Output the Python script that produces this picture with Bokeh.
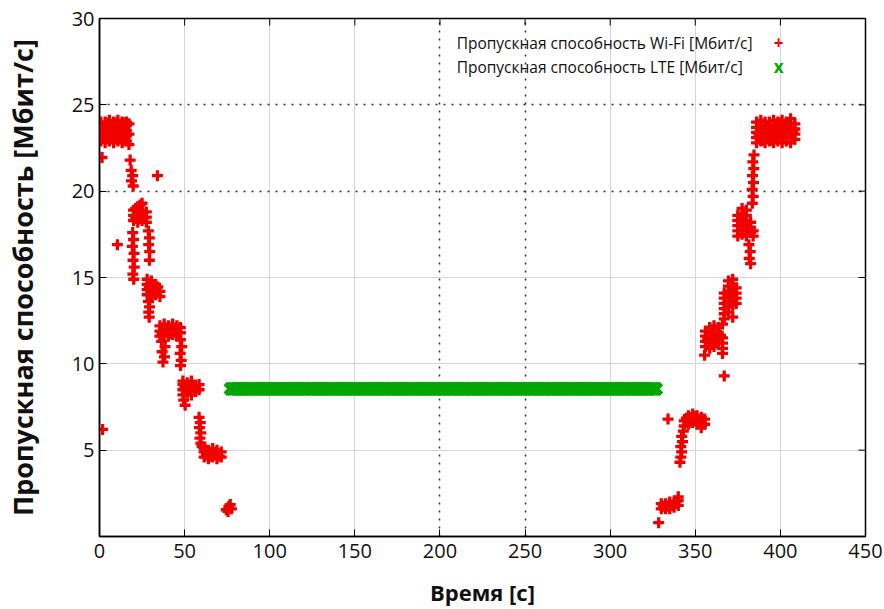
import math
from bokeh.plotting import figure
from bokeh.models import Range1d, FixedTicker, Grid, Label
from bokeh.embed import file_html
from bokeh.resources import INLINE

# ---------------- data ----------------
x_ticks = [0, 50, 100, 150, 200, 250, 300, 350, 400, 450]
y_ticks = [5, 10, 15, 20, 25, 30]
x_grid_light = [50, 100, 150, 300, 350, 400]
x_grid_dotted = [200, 250]
y_grid_light = [5, 10, 15]
y_grid_dotted = [20, 25]

# Wi-Fi throughput while leaving the access point (time s, Mbit/s)
wifi_leave_t = [
    0.8, 0.8, 0.8, 0.8, 0.8,
    3.3, 3.3, 3.3, 3.3, 3.3,
    5.8, 5.8, 5.8, 5.8, 5.8,
    8.3, 8.3, 8.3, 8.3, 8.3,
    10.8, 10.8, 10.8, 10.8, 10.8,
    13.3, 13.3, 13.3, 13.3, 13.3,
    15.8, 15.8, 15.8, 15.8, 15.8,
    2.1, 2.1, 4.6, 4.6, 7.1, 7.1, 9.6, 9.6, 12.1, 12.1, 14.6, 14.6, 17.3, 17.3, 17.3,
    1.5, 18.0, 18.6, 19.5, 18.8, 19.8, 34.0,
    20.0, 20.0, 20.0, 22.5, 22.5, 22.5, 22.5, 25.0, 25.0, 25.0, 25.0, 27.5, 27.5, 27.5,
    21.3, 23.8, 26.3, 23.8, 21.3,
    10.5,
    19.5, 20.0, 19.3, 20.3, 19.7, 20.4, 19.6, 20.1,
    28.7, 29.3, 28.9, 29.5, 29.3,
    28.0, 28.0, 28.0, 28.0, 30.5, 30.5, 30.5, 30.5, 33.0, 33.0, 33.0, 35.5, 35.5,
    29.3, 31.8, 34.2,
    28.8, 29.4, 28.9, 29.2,
    35.5, 35.5, 35.5, 38.0, 38.0, 38.0, 40.5, 40.5, 40.5, 43.0, 43.0, 43.0, 45.5, 45.5, 45.5, 47.5, 47.5,
    36.8, 39.3, 41.8, 44.3,
    36.5, 38.5, 36.8, 38.2, 37.3,
    47.5, 48.3, 47.4, 48.0, 47.6,
    49.0, 49.0, 49.0, 49.0, 51.5, 51.5, 51.5, 54.0, 54.0, 54.0, 54.0, 56.5, 56.5, 58.5, 58.5,
    50.3, 52.8, 55.3,
    49.5, 50.3,
    58.5, 59.2, 58.7, 59.5, 59.0, 59.6, 60.3,
    61.5, 61.5, 61.5, 64.0, 64.0, 64.0, 66.5, 66.5, 66.5, 69.0, 69.0, 69.0, 71.5, 71.5,
    62.8, 65.3, 67.8, 70.3,
    74.5, 76.0, 77.5, 75.5, 76.8,
    1.8,
]
wifi_leave_v = [
    22.9, 23.2, 23.5, 23.8, 24.0,
    22.8, 23.1, 23.4, 23.7, 24.0,
    22.9, 23.2, 23.5, 23.8, 24.1,
    22.8, 23.1, 23.4, 23.7, 24.0,
    22.9, 23.2, 23.5, 23.8, 24.1,
    22.8, 23.1, 23.4, 23.7, 24.0,
    22.9, 23.2, 23.5, 23.8, 24.0,
    23.05, 23.65, 23.35, 23.95, 23.05, 23.65, 23.35, 23.95, 23.05, 23.65, 23.35, 23.95, 22.7, 23.3, 23.9,
    21.95, 21.8, 21.2, 20.9, 20.6, 20.3, 20.9,
    18.3, 18.6, 18.9, 18.2, 18.5, 18.8, 19.1, 18.3, 18.6, 18.9, 19.3, 18.2, 18.5, 18.8,
    18.45, 18.7, 18.45, 19.2, 19.0,
    16.9,
    17.6, 17.2, 16.8, 16.4, 16.0, 15.6, 15.2, 14.9,
    17.7, 17.3, 16.9, 16.5, 16.0,
    14.0, 14.3, 14.6, 14.9, 13.9, 14.2, 14.5, 14.8, 14.0, 14.3, 14.6, 13.9, 14.2,
    14.45, 14.05, 14.45,
    13.6, 13.3, 13.0, 12.7,
    11.6, 11.9, 12.2, 11.7, 12.0, 12.3, 11.6, 11.9, 12.2, 11.7, 12.0, 12.3, 11.6, 11.9, 12.2, 11.8, 12.1,
    11.75, 12.05, 11.75, 12.05,
    11.3, 11.0, 10.7, 10.4, 10.1,
    11.4, 11.0, 10.6, 10.2, 9.9,
    8.2, 8.5, 8.8, 9.0, 8.3, 8.6, 8.9, 8.2, 8.5, 8.8, 9.0, 8.4, 8.7, 8.5, 8.8,
    8.65, 8.45, 8.65,
    7.9, 7.6,
    6.9, 6.6, 6.3, 6.0, 5.7, 5.4, 5.2,
    4.6, 4.9, 5.1, 4.5, 4.8, 5.0, 4.6, 4.9, 5.1, 4.5, 4.8, 5.0, 4.6, 4.9,
    4.75, 4.65, 4.75, 4.65,
    1.55, 1.75, 1.6, 1.45, 1.85,
    6.2,
]

# Wi-Fi throughput while returning to the access point
wifi_return_t = [
    328.5,
    330.0, 330.0, 332.5, 332.5, 335.0, 335.0, 335.0, 337.5, 337.5, 340.0, 340.0, 340.0,
    331.3, 333.8, 336.3, 338.8,
    334.0,
    341.0, 341.5, 342.0, 341.5, 342.5, 342.0, 343.0,
    343.5, 343.5, 346.0, 346.0, 346.0, 348.5, 348.5, 348.5, 351.0, 351.0, 351.0, 353.5, 353.5, 353.5, 355.5, 355.5,
    344.8, 347.3, 349.8, 352.3,
    356.0, 356.0, 356.0, 356.0,
    358.5, 358.5, 358.5, 358.5, 358.5,
    361.0, 361.0, 361.0, 361.0, 361.0,
    363.5, 363.5, 363.5, 363.5,
    366.0, 366.0, 366.0, 366.0, 366.0,
    357.3, 359.8, 362.3, 364.8,
    355.5, 367.0,
    367.0, 367.0, 367.0, 367.0, 367.0, 367.0,
    369.5, 369.5, 369.5, 369.5, 369.5, 369.5, 369.5,
    372.0, 372.0, 372.0, 372.0, 372.0, 372.0, 372.0,
    374.0, 374.0, 374.0, 374.0,
    375.0, 375.0, 375.0, 375.0, 375.0,
    377.5, 377.5, 377.5, 377.5, 377.5, 377.5,
    380.0, 380.0, 380.0, 380.0, 380.0, 380.0,
    382.5, 382.5, 382.5, 384.0, 384.0,
    381.5, 382.3, 381.7, 382.5,
    383.5, 384.0, 383.4, 384.2, 383.6, 384.4, 383.8, 384.5,
    386.0, 386.0, 386.0, 386.0, 386.0,
    388.5, 388.5, 388.5, 388.5, 388.5,
    391.0, 391.0, 391.0, 391.0, 391.0,
    393.5, 393.5, 393.5, 393.5, 393.5,
    396.0, 396.0, 396.0, 396.0, 396.0,
    398.5, 398.5, 398.5, 398.5, 398.5,
    401.0, 401.0, 401.0, 401.0, 401.0,
    403.5, 403.5, 403.5, 403.5, 403.5,
    406.0, 406.0, 406.0, 406.0, 406.0,
    408.5, 408.5, 408.5, 408.5,
    387.3, 392.3, 397.3, 402.3, 407.3, 389.8, 399.8, 394.8, 404.8,
]
wifi_return_v = [
    0.8,
    1.6, 1.9, 1.6, 1.9, 1.6, 1.9, 2.0, 1.7, 1.95, 1.8, 2.1, 2.3,
    1.75, 1.75, 1.8, 2.0,
    6.8,
    4.3, 4.6, 4.9, 5.2, 5.5, 5.8, 6.1,
    6.4, 6.7, 6.5, 6.8, 7.0, 6.6, 6.9, 7.1, 6.5, 6.8, 7.0, 6.3, 6.6, 6.9, 6.5, 6.8,
    6.85, 6.65, 6.95, 6.65,
    11.0, 11.3, 11.6, 11.9,
    10.9, 11.2, 11.5, 11.8, 12.1,
    11.0, 11.3, 11.6, 11.9, 12.2,
    11.2, 11.5, 11.8, 12.1,
    10.6, 10.9, 11.2, 11.5, 12.3,
    11.45, 11.65, 11.45, 11.65,
    10.5, 9.3,
    12.6, 12.9, 13.2, 13.5, 13.8, 14.1,
    13.0, 13.3, 13.6, 13.9, 14.2, 14.5, 14.8,
    12.7, 13.4, 13.7, 14.0, 14.3, 14.6, 14.9,
    13.5, 13.8, 14.1, 14.4,
    17.4, 17.7, 18.0, 18.3, 18.6,
    17.5, 17.8, 18.1, 18.4, 18.7, 19.0,
    17.4, 17.7, 18.0, 18.3, 18.6, 18.9,
    17.6, 17.9, 18.2, 17.4, 17.7,
    16.9, 16.5, 16.1, 15.8,
    19.3, 19.7, 20.1, 20.5, 20.9, 21.3, 21.7, 22.1,
    22.8, 23.1, 23.4, 23.7, 24.0,
    22.9, 23.2, 23.5, 23.8, 24.1,
    22.8, 23.1, 23.4, 23.7, 24.0,
    22.9, 23.2, 23.5, 23.8, 24.0,
    22.8, 23.1, 23.4, 23.7, 24.1,
    22.9, 23.2, 23.5, 23.8, 24.0,
    22.8, 23.1, 23.4, 23.7, 24.1,
    22.9, 23.2, 23.5, 23.8, 24.0,
    22.8, 23.1, 23.4, 23.7, 24.2,
    23.0, 23.3, 23.6, 23.9,
    23.3, 23.6, 23.3, 23.6, 23.45, 22.95, 23.95, 22.95, 23.95,
]

# LTE throughput, sampled each second while Wi-Fi is out of range
lte_t = list(range(77, 328))
lte_v = [8.55] * len(lte_t)

assert len(wifi_leave_t) == len(wifi_leave_v)
assert len(wifi_return_t) == len(wifi_return_v)

legend_wifi = "Пропускная способность Wi-Fi [Мбит/с]"
legend_lte = "Пропускная способность LTE [Мбит/с]"

RED = "#f20000"
GREEN = "#00a600"
TICK_FONT = "Open Sans"
X_MIN, X_MAX, Y_MIN, Y_MAX = 0, 450, 0, 30

# ---------------- figure ----------------
p = figure(width=884, height=609,
           x_range=Range1d(X_MIN, X_MAX), y_range=Range1d(Y_MIN, Y_MAX),
           output_backend="svg", toolbar_location=None,
           min_border_left=98, min_border_right=19,
           min_border_top=18, min_border_bottom=73,
           background_fill_color="white", border_fill_color="white")

p.outline_line_color = "black"
p.outline_line_width = 1.5

# grids
p.xgrid.ticker = FixedTicker(ticks=x_grid_light)
p.ygrid.ticker = FixedTicker(ticks=y_grid_light)
for g in (p.xgrid, p.ygrid):
    g.grid_line_color = "#d6d6d6"
    g.grid_line_width = 1
p.add_layout(Grid(dimension=0, ticker=FixedTicker(ticks=x_grid_dotted),
                  grid_line_color="#333333", grid_line_width=1.5,
                  grid_line_dash="2 6"))
p.add_layout(Grid(dimension=1, ticker=FixedTicker(ticks=y_grid_dotted),
                  grid_line_color="#333333", grid_line_width=1.5,
                  grid_line_dash="2 6"))

# axes
for ax, ticks in ((p.xaxis[0], x_ticks), (p.yaxis[0], y_ticks)):
    ax.ticker = FixedTicker(ticks=ticks)
    ax.major_tick_in = 7
    ax.major_tick_out = 0
    ax.minor_tick_in = 0
    ax.minor_tick_out = 0
    ax.major_tick_line_color = "black"
    ax.axis_line_color = "black"
    ax.axis_line_width = 1.5
    ax.major_label_text_font = TICK_FONT
    ax.major_label_text_font_size = "20px"
    ax.major_label_text_color = "#111111"
    ax.axis_label_text_font = "Open Sans"
    ax.axis_label_text_font_style = "bold"
    ax.axis_label_text_color = "#111111"

p.xaxis.axis_label = "Время [с]"
p.xaxis.axis_label_text_font_size = "22px"
p.xaxis.major_label_standoff = 7
p.xaxis.axis_label_standoff = 16

p.yaxis.axis_label = "Пропускная способность [Мбит/с]"
p.yaxis.axis_label_text_font_size = "27px"
p.yaxis.major_label_standoff = 5
p.yaxis.axis_label_standoff = 28

# mirrored tick marks on the top and right borders (half clipped by the frame)
p.scatter(x_ticks, [Y_MAX] * len(x_ticks), marker="dash", angle=math.pi / 2,
          size=14, line_color="black", line_width=1)
p.scatter([X_MAX] * len(y_ticks), y_ticks, marker="dash",
          size=14, line_color="black", line_width=1)

# data
p.scatter(lte_t, lte_v, marker="x", size=15, line_color=GREEN, line_width=5)
p.scatter(wifi_leave_t, wifi_leave_v, marker="cross", size=11,
          line_color=RED, line_width=3.3)
p.scatter(wifi_return_t, wifi_return_v, marker="cross", size=11,
          line_color=RED, line_width=3.3)

# legend (text on the left, symbol on the right, as in the original)
for yv, txt, sym, col in ((28.6, legend_wifi, "+", RED), (27.2, legend_lte, "x", GREEN)):
    p.add_layout(Label(x=209.8, y=yv, text=txt, text_baseline="middle",
                       text_align="left", text_font="Open Sans",
                       text_font_size="15.5px", text_color="#111111"))
    p.add_layout(Label(x=399, y=yv, text=sym, text_baseline="middle",
                       text_align="center", text_font="Open Sans",
                       text_font_style="bold", text_font_size="17px",
                       text_color=col))

open("out.html", "w").write(file_html(p, INLINE))
